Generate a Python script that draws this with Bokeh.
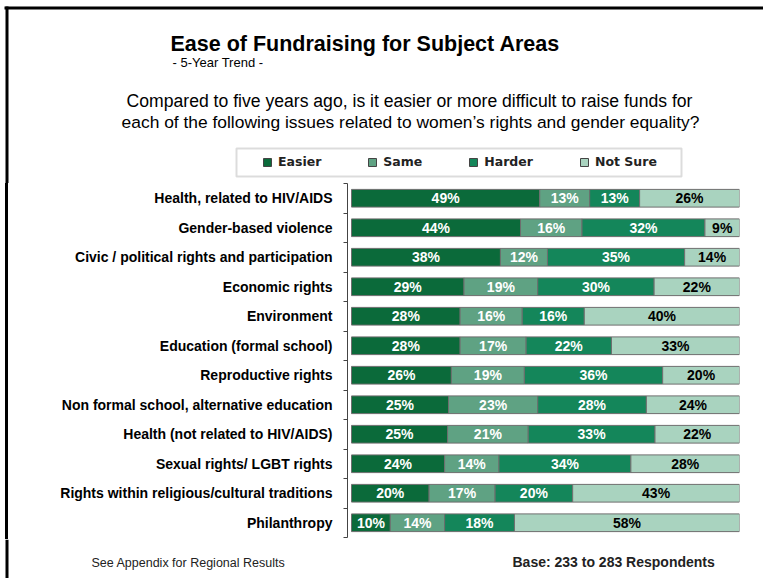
import numpy as np
from bokeh.plotting import figure
from bokeh.layouts import column
from bokeh.models import ColumnDataSource, Range1d, FixedTicker, Label, BoxAnnotation
from bokeh.core.properties import value
from bokeh.embed import file_html
from bokeh.resources import INLINE

# ---------------- data ----------------
categories = [
    "Health, related to HIV/AIDS",
    "Gender-based violence",
    "Civic / political rights and participation",
    "Economic rights",
    "Environment",
    "Education (formal school)",
    "Reproductive rights",
    "Non formal school, alternative education",
    "Health (not related to HIV/AIDS)",
    "Sexual rights/ LGBT rights",
    "Rights within religious/cultural traditions",
    "Philanthropy",
]
easier = [49, 44, 38, 29, 28, 28, 26, 25, 25, 24, 20, 10]
same = [13, 16, 12, 19, 16, 17, 19, 23, 21, 14, 17, 14]
harder = [13, 32, 35, 30, 16, 22, 36, 28, 33, 34, 20, 18]
not_sure = [26, 9, 14, 22, 40, 33, 20, 24, 22, 28, 43, 58]
series_names = ["Easier", "Same", "Harder", "Not Sure"]
series_keys = ["easier", "same", "harder", "not_sure"]
colors = ["#0b6a3a", "#5fa283", "#14865a", "#a9d3bf"]
label_colors = ["white", "white", "white", "black"]

title_text = "Ease of Fundraising for Subject Areas"
subtitle_text = "- 5-Year Trend -"
question_lines = [
    "Compared to five years ago, is it easier or more difficult to raise funds for",
    "each of the following issues related to women\u2019s rights and gender equality?",
]
footer_left = "See Appendix for Regional Results"
footer_right = "Base: 233 to 283 Respondents"

# ---------------- derived ----------------
vals = np.array([easier, same, harder, not_sure], dtype=float)
norm = vals / vals.sum(axis=0)
ypos = np.arange(len(categories)) + 0.5

data = dict(y=ypos)
for k, row in zip(series_keys, norm):
    data[k] = row
source = ColumnDataSource(data)

cum = np.cumsum(norm, axis=0)
centers = cum - norm / 2.0
tx, ty, tt, tc = [], [], [], []
for si in range(len(series_keys)):
    for ci in range(len(categories)):
        tx.append(centers[si, ci])
        ty.append(ypos[ci])
        tt.append(f"{int(vals[si, ci])}%")
        tc.append(label_colors[si])
tsrc = ColumnDataSource(dict(x=tx, y=ty, t=tt, c=tc))

W = 763
H1, H2, H3 = 183, 356, 39          # header, chart, footer heights
TOP3 = H1 + H2                      # page y of footer canvas top
FL, FR = 347, 24


def bare(h):
    f = figure(width=W, height=h, output_backend="svg", toolbar_location=None,
               x_range=Range1d(0, W), y_range=Range1d(0, h),
               x_axis_location=None, y_axis_location=None,
               min_border=0, min_border_left=0, min_border_right=0,
               min_border_top=0, min_border_bottom=0, frame_align=False)
    f.outline_line_color = None
    f.xgrid.visible = False
    f.ygrid.visible = False
    f.background_fill_color = None
    f.border_fill_color = None
    return f


def add_label(f, top, h, text, px, py, size, style="normal", align="left",
              font="Liberation Sans", color="black"):
    f.add_layout(Label(x=px, y=h - (py - top), x_units="screen", y_units="screen", text=text,
                       text_font=font, text_font_size=size, text_font_style=style,
                       text_align=align, text_baseline="middle", text_color=color))


def add_box(f, top, h, l, r, t, b, **kw):
    f.add_layout(BoxAnnotation(left=l, right=r, top=h - (t - top), bottom=h - (b - top),
                               left_units="screen", right_units="screen",
                               top_units="screen", bottom_units="screen", **kw))


# ---------------- header ----------------
head = bare(H1)
add_box(head, 0, H1, 4, 763, 6, 9, fill_color="black", fill_alpha=1, line_alpha=0)
add_box(head, 0, H1, 5, 8, 6, H1, fill_color="black", fill_alpha=1, line_alpha=0)
add_label(head, 0, H1, title_text, 170, 43, "21.5px", "bold")
add_label(head, 0, H1, subtitle_text, 172, 62, "13px")
add_label(head, 0, H1, question_lines[0], 409, 100, "17.6px", align="center")
add_label(head, 0, H1, question_lines[1], 410, 121, "17.4px", align="center")
add_box(head, 0, H1, 236, 681, 148, 176, fill_alpha=0, line_color="#8c8c8c", line_width=2)
# legend swatches: zero-length bars placed outside the header's visible range
for name, c in zip(series_names, colors):
    head.hbar(y=[-100], left=[0], right=[0], height=1, color=c, line_color="#444444",
              legend_label=name)
lg = head.legend[0]
lg.orientation = "horizontal"
lg.location = (262, H1 - 169)
lg.padding = 0
lg.margin = 0
lg.spacing = 46
lg.glyph_width = 10
lg.glyph_height = 10
lg.label_standoff = 6
lg.label_height = 10
lg.label_text_font = "DejaVu Sans"
lg.label_text_font_style = "bold"
lg.label_text_font_size = "12.5px"
lg.label_text_color = "#222222"
lg.border_line_alpha = 0
lg.background_fill_alpha = 0

# ---------------- chart ----------------
p = figure(width=W, height=H2, output_backend="svg", toolbar_location=None,
           x_range=Range1d(-4 / 388, 1.0), y_range=Range1d(len(categories), 0),
           x_axis_location=None, frame_align=False,
           min_border_left=FL, min_border_right=FR, min_border_top=0, min_border_bottom=2)
p.outline_line_color = None
p.xgrid.visible = False
p.ygrid.visible = False
p.background_fill_color = "white"
p.border_fill_color = None
p.styles = {"box-shadow": "inset 5px 0 0 0 white, inset 8px 0 0 0 black"}

p.hbar_stack(series_keys, y="y", height=0.6, color=colors, source=source,
             line_color="#6e6e6e", line_width=1)

p.text(x="x", y="y", text="t", text_color="c", source=tsrc,
       text_align="center", text_baseline="middle",
       text_font=value("Liberation Sans"), text_font_style="bold", text_font_size="14px")

ax = p.yaxis[0]
ax.ticker = FixedTicker(ticks=list(ypos), minor_ticks=list(range(len(categories) + 1)))
ax.major_label_overrides = {float(y): c for y, c in zip(ypos, categories)}
ax.major_tick_out = 0
ax.major_tick_in = 0
ax.minor_tick_out = 4
ax.minor_tick_in = 0
ax.axis_line_color = "#444444"
ax.minor_tick_line_color = "#444444"
ax.major_label_standoff = 11
ax.major_label_text_font = "Liberation Sans"
ax.major_label_text_font_style = "bold"
ax.major_label_text_font_size = "14px"
ax.major_label_text_color = "black"

# ---------------- footer ----------------
foot = bare(H3)
add_box(foot, TOP3, H3, 5, 8, TOP3, 578, fill_color="black", fill_alpha=1, line_alpha=0)
add_label(foot, TOP3, H3, footer_left, 91, 562, "12.5px", color="#222222")
add_label(foot, TOP3, H3, footer_right, 512, 561, "14px", "bold", color="#222222")

layout = column(head, p, foot, spacing=0)
open("out.html", "w").write(file_html(layout, INLINE))
